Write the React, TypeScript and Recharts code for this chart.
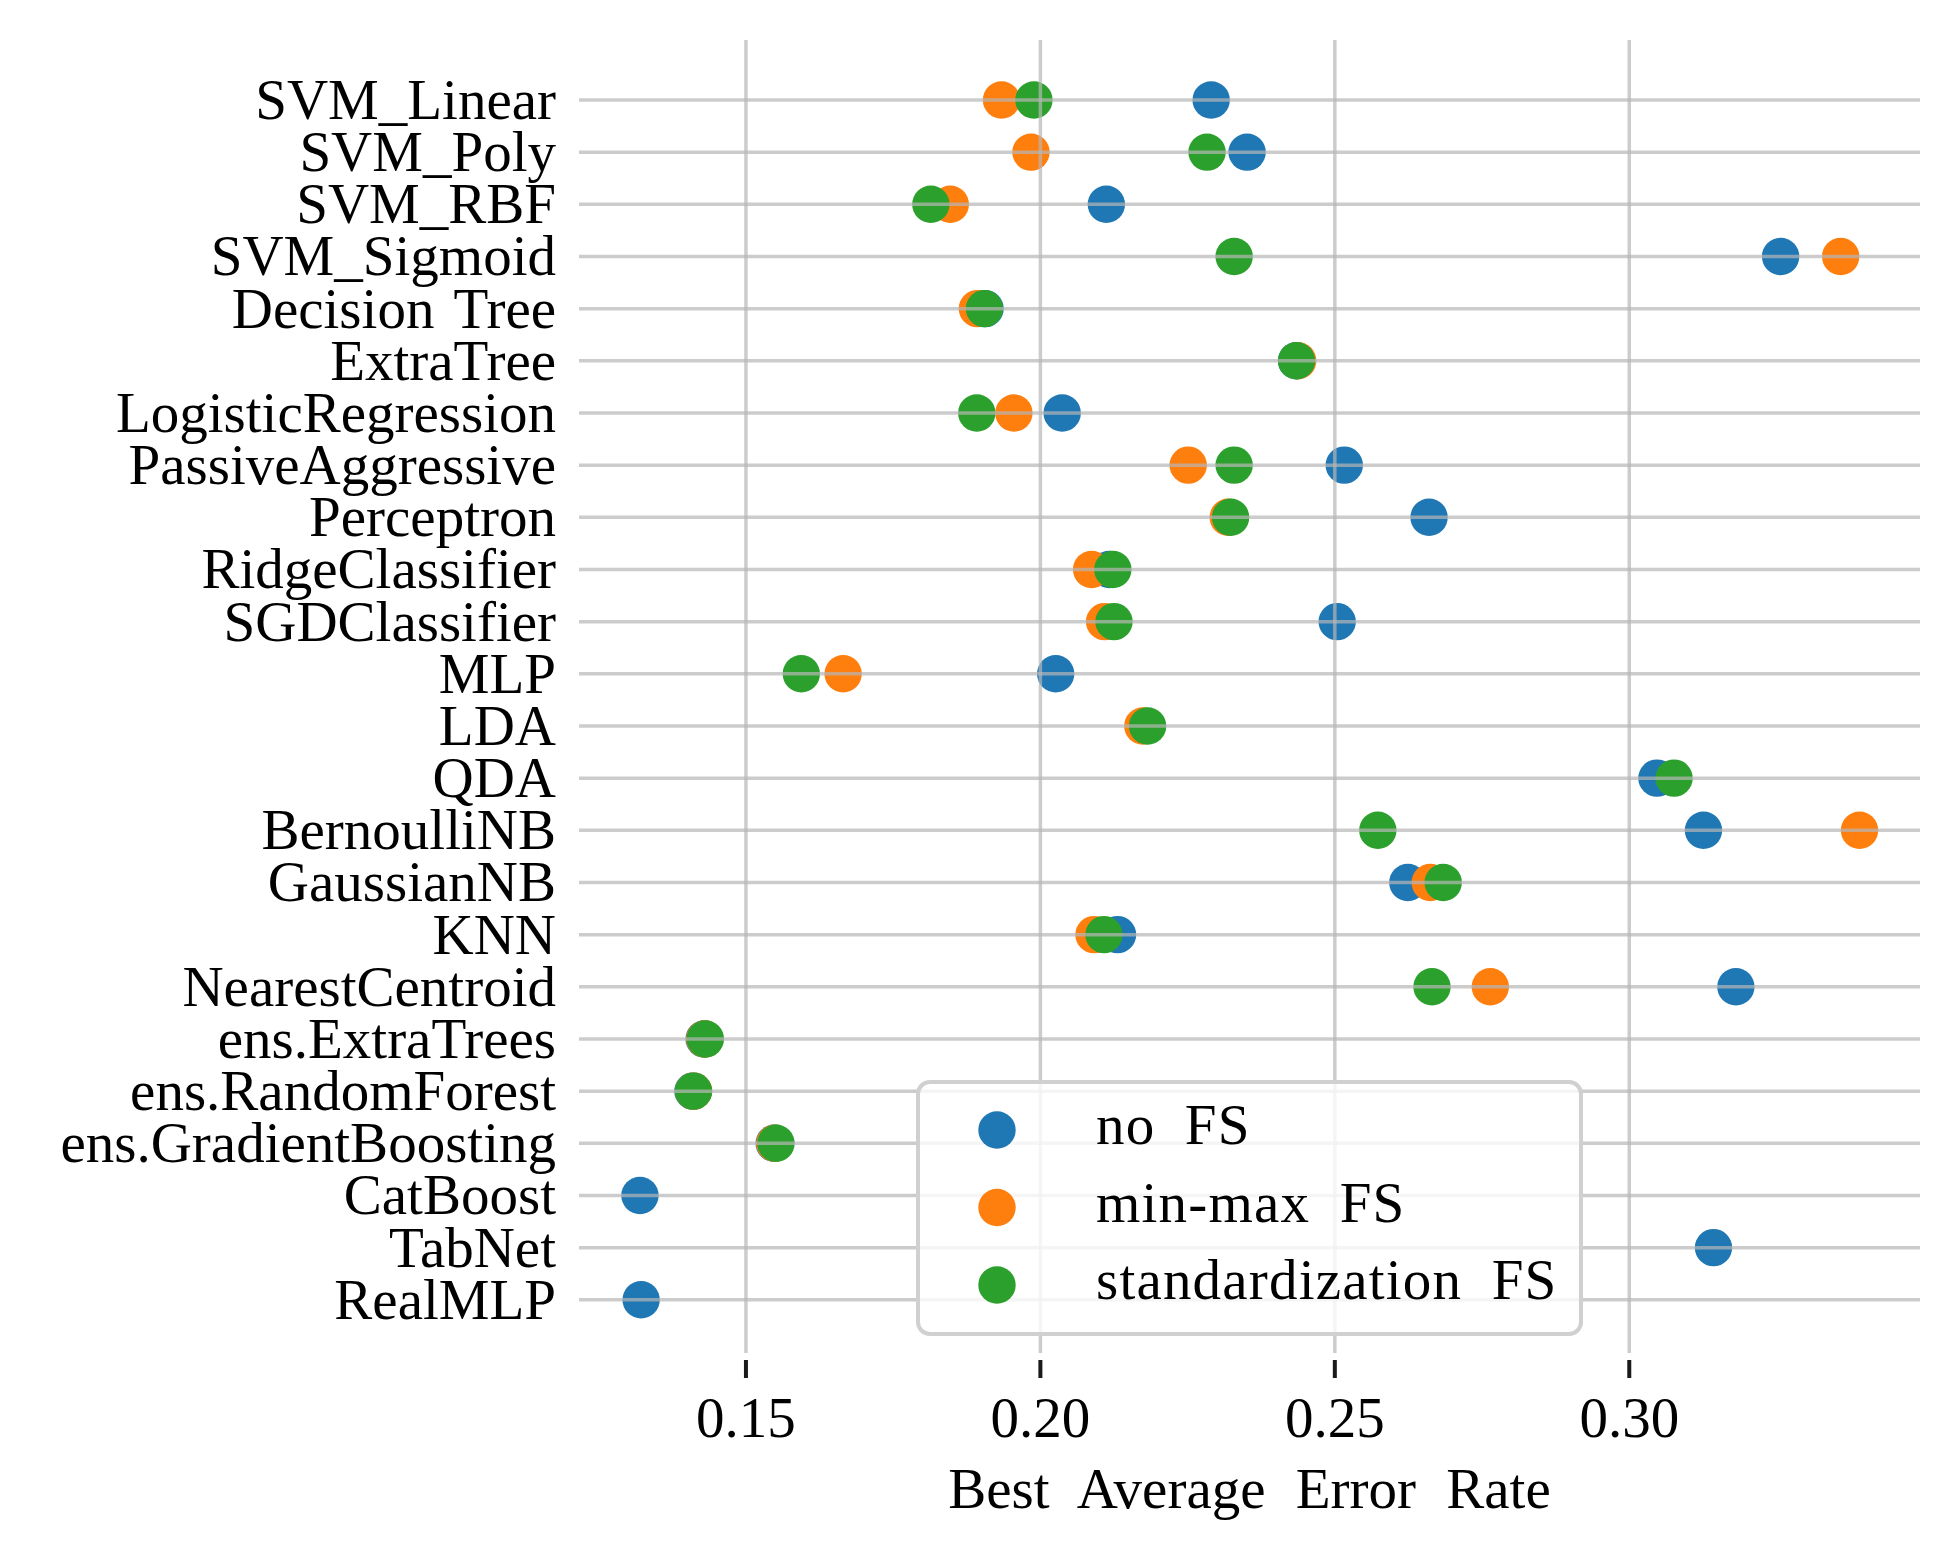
import { CartesianGrid, Label, Legend, Scatter, ScatterChart, XAxis, YAxis } from "recharts";

const MODELS = [
  "SVM_Linear",
  "SVM_Poly",
  "SVM_RBF",
  "SVM_Sigmoid",
  "Decision Tree",
  "ExtraTree",
  "LogisticRegression",
  "PassiveAggressive",
  "Perceptron",
  "RidgeClassifier",
  "SGDClassifier",
  "MLP",
  "LDA",
  "QDA",
  "BernoulliNB",
  "GaussianNB",
  "KNN",
  "NearestCentroid",
  "ens.ExtraTrees",
  "ens.RandomForest",
  "ens.GradientBoosting",
  "CatBoost",
  "TabNet",
  "RealMLP",
];

// best average error rate per model, null where the run is not shown
const NO_FS = [
  0.229, 0.2351, 0.2112, 0.3257, 0.1906, 0.2435, 0.2037, 0.2516, 0.266, 0.2117, 0.2504, 0.2026,
  null, 0.3047, 0.3126, 0.2624, 0.2131, 0.3181, 0.1429, 0.141, 0.1548, 0.132, 0.3143, 0.1322,
];
const MIN_MAX_FS = [
  0.1934, 0.1984, 0.1847, 0.3359, 0.1893, 0.2437, 0.1955, 0.2251, 0.2319, 0.2087, 0.2109, 0.1665,
  0.2174, null, 0.3391, 0.2662, 0.2091, 0.2764, 0.143, 0.1411, 0.1549, null, null, null,
];
const STD_FS = [
  0.1989, 0.2283, 0.1814, 0.2329, 0.1905, 0.2435, 0.1892, 0.2329, 0.2323, 0.2123, 0.2125, 0.1594,
  0.2182, 0.3076, 0.2573, 0.2684, 0.2108, 0.2665, 0.1431, 0.1411, 0.1551, null, null, null,
];

const SERIES_NAMES = ["no FS", "min-max FS", "standardization FS"];
const SERIES_COLORS = ["#1f77b4", "#ff7f0e", "#2ca02c"];
const X_TICKS = [0.15, 0.2, 0.25, 0.3];

const FONT = "'Liberation Serif', 'Times New Roman', serif";
const FONT_SIZE = 57;
const DOT_R = 18.7;

// the original is set in Computer Modern, which runs a bit wider than Liberation Serif
const labelStyle = { wordSpacing: "6px" };
const titleStyle = { wordSpacing: "16px" };
const legendStyle = { letterSpacing: "1.2px", wordSpacing: "14px" };

const toPoints = (values: (number | null)[]) =>
  values
    .map((v, i) => (v == null ? null : { x: v, y: i }))
    .filter((p): p is { x: number; y: number } => p !== null);

const SERIES = [NO_FS, MIN_MAX_FS, STD_FS].map((vals, i) => ({
  name: SERIES_NAMES[i],
  color: SERIES_COLORS[i],
  points: toPoints(vals),
}));

const Y_TICKS = MODELS.map((_, i) => i);

function XTick(props: any) {
  const { x, y, payload } = props;
  return (
    <g>
      <line x1={x} x2={x} y1={y + 7} y2={y + 25} stroke="#1a1a1a" strokeWidth={4} />
      <text x={x} y={y + 84} textAnchor="middle" fontFamily={FONT} fontSize={FONT_SIZE} fill="#000">
        {Number(payload.value).toFixed(2)}
      </text>
    </g>
  );
}

function YTick(props: any) {
  const { x, y, payload } = props;
  const name = MODELS[payload.value];
  if (name === undefined) return null;
  return (
    <text x={x - 23} y={y + 19} textAnchor="end" fontFamily={FONT} fontSize={FONT_SIZE} fill="#000" style={labelStyle}>
      {name}
    </text>
  );
}

function XTitle(props: any) {
  const vb = props.viewBox || {};
  return (
    <text
      x={vb.x + vb.width / 2}
      y={vb.y + 155}
      textAnchor="middle"
      fontFamily={FONT}
      fontSize={FONT_SIZE}
      fill="#000"
      style={titleStyle}
    >
      Best Average Error Rate
    </text>
  );
}

function LegendBox(props: any) {
  const payload = [...(props.payload || [])].sort(
    (a: any, b: any) => SERIES_NAMES.indexOf(a.value) - SERIES_NAMES.indexOf(b.value),
  );
  return (
    <svg width={667} height={256} style={{ display: "block" }}>
      <rect x={2} y={2} width={663} height={252} rx={12} ry={12} fill="rgba(255,255,255,0.8)" stroke="#d0d0d0" strokeWidth={4} />
      {payload.map((entry: any, i: number) => (
        <g key={entry.value}>
          <circle cx={81} cy={50 + i * 77.5} r={DOT_R} fill={entry.color} />
          <text x={180} y={64 + i * 77.5} fontFamily={FONT} fontSize={FONT_SIZE} fill="#000" style={legendStyle}>
            {entry.value}
          </text>
        </g>
      ))}
    </svg>
  );
}

export default function App() {
  return (
    <div style={{ position: "absolute", left: 0, top: 0, width: 1959, height: 1560, background: "#fff" }}>
      <ScatterChart width={1959} height={1560} margin={{ top: 40, right: 39, left: 0, bottom: 0 }}>
        <XAxis
          type="number"
          dataKey="x"
          domain={[0.12165, 0.34937]}
          allowDataOverflow
          ticks={X_TICKS}
          interval={0}
          axisLine={false}
          tickLine={false}
          tickSize={0}
          tickMargin={0}
          height={207}
          tick={<XTick />}
        >
          <Label content={<XTitle />} />
        </XAxis>
        <YAxis
          type="number"
          dataKey="y"
          domain={[-1.15, 24.02]}
          allowDataOverflow
          reversed
          ticks={Y_TICKS}
          interval={0}
          axisLine={false}
          tickLine={false}
          tickSize={0}
          tickMargin={0}
          width={579}
          tick={<YTick />}
        />
        {SERIES.map((s) => (
          <Scatter
            key={s.name}
            name={s.name}
            data={s.points}
            fill={s.color}
            isAnimationActive={false}
            shape={(p: any) => <circle cx={p.cx} cy={p.cy} r={DOT_R} fill={s.color} />}
          />
        ))}
        <CartesianGrid syncWithTicks stroke="#b6b6b6" strokeOpacity={0.7} strokeWidth={3.5} zIndex={1000} />
        <Legend
          layout="horizontal"
          verticalAlign="middle"
          align="center"
          content={<LegendBox />}
          wrapperStyle={{ left: 916, top: 1080, width: 667, height: 256 }}
        />
      </ScatterChart>
    </div>
  );
}
